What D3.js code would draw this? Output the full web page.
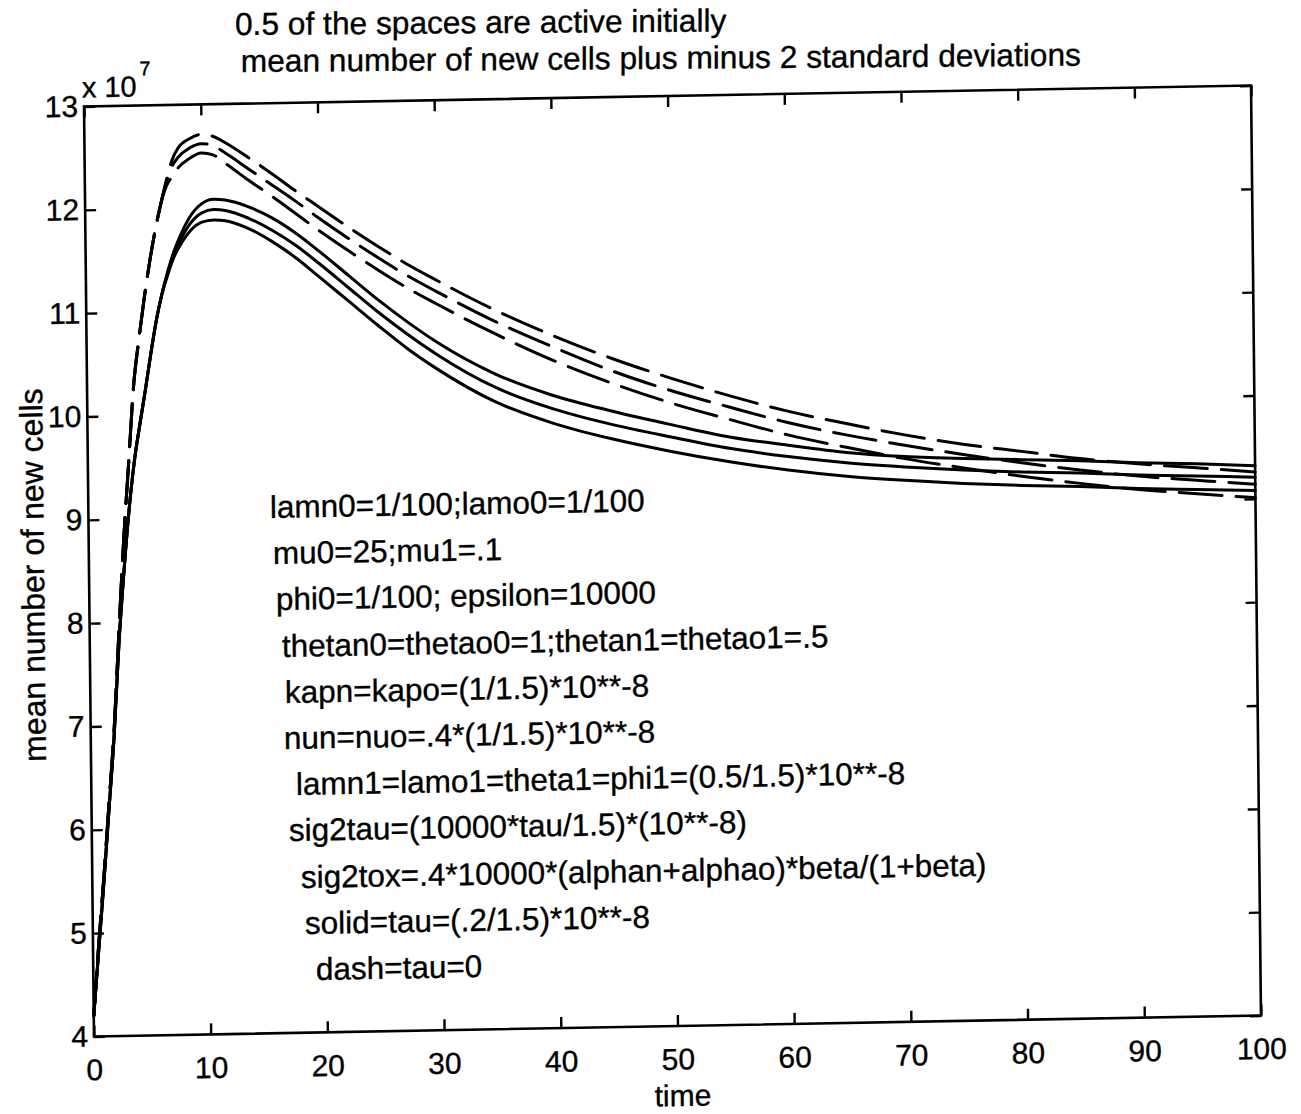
<!DOCTYPE html>
<html>
<head>
<meta charset="utf-8">
<script src="https://cdn.jsdelivr.net/npm/d3@7"></script>
<style>
  html, body { margin: 0; padding: 0; background: #fff; }
  svg { display: block; }
  text { font-family: "Liberation Sans", Arial, Helvetica, sans-serif; fill: #000; stroke: #000; stroke-width: 0.35px; }
</style>
</head>
<body>
<svg id="chart" width="1301" height="1114"></svg>
<script>
// ---------------- data ----------------
const titleLines = [
  "0.5 of the spaces are active initially",
  " mean number of new cells plus minus 2 standard deviations"
];
const xLabel = "time";
const yLabel = "mean number of new cells";
const yExponent = "7";
const xTicks = [0, 10, 20, 30, 40, 50, 60, 70, 80, 90, 100];
const yTicks = [4, 5, 6, 7, 8, 9, 10, 11, 12, 13];

const time = [0, 0.5, 1, 1.5, 2, 2.5, 3, 3.5, 4, 4.5, 5, 5.5, 6, 6.5, 7, 7.5, 8, 9, 10, 11, 12, 14, 16, 18, 20, 22.5, 25, 27.5, 30, 35, 40, 45, 50, 55, 60, 65, 70, 75, 80, 85, 90, 95, 100];

// dashed: tau = 0 (mean + 2sd, mean, mean - 2sd), units of 1e7
const dashUpper = [4.2, 4.9, 5.55, 6.25, 6.95, 7.9, 8.8, 9.55, 10.3, 10.75, 11.15, 11.5, 11.8, 12.05, 12.28, 12.47, 12.58, 12.67, 12.71, 12.69, 12.63, 12.48, 12.32, 12.15, 11.99, 11.79, 11.60, 11.42, 11.26, 10.96, 10.70, 10.47, 10.27, 10.09, 9.93, 9.80, 9.68, 9.58, 9.50, 9.42, 9.36, 9.31, 9.26];
const dashMean  = [4.2, 4.9, 5.55, 6.25, 6.95, 7.9, 8.8, 9.55, 10.3, 10.75, 11.15, 11.5, 11.8, 12.05, 12.26, 12.41, 12.49, 12.58, 12.62, 12.60, 12.53, 12.37, 12.21, 12.05, 11.88, 11.68, 11.49, 11.31, 11.15, 10.85, 10.59, 10.35, 10.15, 9.98, 9.82, 9.69, 9.58, 9.48, 9.39, 9.31, 9.24, 9.19, 9.14];
const dashLower = [4.2, 4.9, 5.55, 6.25, 6.95, 7.9, 8.8, 9.55, 10.3, 10.75, 11.15, 11.5, 11.8, 12.05, 12.22, 12.31, 12.39, 12.48, 12.53, 12.51, 12.43, 12.26, 12.10, 11.93, 11.76, 11.56, 11.37, 11.19, 11.03, 10.73, 10.46, 10.23, 10.03, 9.86, 9.70, 9.57, 9.45, 9.35, 9.26, 9.18, 9.11, 9.06, 9.01];

// solid: tau = (.2/1.5)*10**-8
const solidUpper = [4.2, 4.85, 5.5, 6.2, 6.9, 7.8, 8.5, 9.1, 9.57, 9.92, 10.25, 10.6, 10.92, 11.17, 11.38, 11.56, 11.70, 11.92, 12.04, 12.08, 12.07, 12.00, 11.89, 11.74, 11.56, 11.32, 11.08, 10.86, 10.66, 10.34, 10.12, 9.96, 9.82, 9.69, 9.60, 9.52, 9.47, 9.44, 9.42, 9.40, 9.37, 9.35, 9.32];
const solidMean  = [4.2, 4.85, 5.5, 6.2, 6.9, 7.8, 8.5, 9.1, 9.57, 9.92, 10.25, 10.6, 10.92, 11.17, 11.37, 11.54, 11.66, 11.85, 11.95, 11.98, 11.97, 11.89, 11.77, 11.62, 11.44, 11.20, 10.96, 10.74, 10.54, 10.21, 9.99, 9.83, 9.70, 9.58, 9.49, 9.42, 9.37, 9.33, 9.30, 9.28, 9.25, 9.23, 9.21];
const solidLower = [4.2, 4.85, 5.5, 6.2, 6.9, 7.8, 8.5, 9.1, 9.57, 9.92, 10.25, 10.6, 10.92, 11.17, 11.35, 11.51, 11.62, 11.78, 11.86, 11.88, 11.87, 11.79, 11.66, 11.50, 11.31, 11.07, 10.83, 10.60, 10.40, 10.07, 9.85, 9.69, 9.56, 9.45, 9.36, 9.29, 9.24, 9.20, 9.17, 9.15, 9.12, 9.10, 9.08];

const notes = [
  "lamn0=1/100;lamo0=1/100",
  "mu0=25;mu1=.1",
  "phi0=1/100; epsilon=10000",
  "thetan0=thetao0=1;thetan1=thetao1=.5",
  "kapn=kapo=(1/1.5)*10**-8",
  "nun=nuo=.4*(1/1.5)*10**-8",
  "lamn1=lamo1=theta1=phi1=(0.5/1.5)*10**-8",
  "sig2tau=(10000*tau/1.5)*(10**-8)",
  "sig2tox=.4*10000*(alphan+alphao)*beta/(1+beta)",
  "solid=tau=(.2/1.5)*10**-8",
  "dash=tau=0"
];

// ---------------- layout ----------------
const W = 1301, H = 1114;
const frame = { left: 89, right: 1256, top: 96, bottom: 1026 };
// scan distortion: slight shear/rotation about the frame centre
const warp = { cx: 672.5, cy: 561, a: 0.0107, b: -0.018 };
// screen positions (left, baseline) of the hand-placed annotation lines
const notePos = [
  [270, 518], [273, 564], [276, 610], [282, 657], [285, 703], [284, 749],
  [296, 795], [289, 841], [301, 888], [305, 934], [316, 980]
];
// screen positions (left, baseline) of the two title lines
const titlePos = [[235, 35], [232, 72]];

const svg = d3.select("#chart");
svg.append("rect").attr("width", W).attr("height", H).attr("fill", "#fff");

const g = svg.append("g")
  .attr("transform", `matrix(1, ${warp.b}, ${warp.a}, 1, ${-warp.a * warp.cy}, ${-warp.b * warp.cx})`);

// screen point -> unwarped coordinates
function inv(px, py) {
  const dx = px - warp.cx, dy = py - warp.cy, det = 1 - warp.a * warp.b;
  return [warp.cx + (dx - warp.a * dy) / det, warp.cy + (dy - warp.b * dx) / det];
}

const x = d3.scaleLinear().domain([0, 100]).range([frame.left, frame.right]);
const y = d3.scaleLinear().domain([4, 13]).range([frame.bottom, frame.top]);

const tickLen = 11;
const fs = 30;

// frame
g.append("rect")
  .attr("x", frame.left).attr("y", frame.top)
  .attr("width", frame.right - frame.left).attr("height", frame.bottom - frame.top)
  .attr("fill", "none").attr("stroke", "#000").attr("stroke-width", 2.6);

// axes with inward ticks
const xBottom = d3.axisBottom(x).tickValues(xTicks).tickSizeInner(-tickLen).tickSizeOuter(0).tickPadding(22);
const xTop = d3.axisTop(x).tickValues(xTicks).tickSizeInner(-tickLen).tickSizeOuter(0).tickFormat("");
const yLeft = d3.axisLeft(y).tickValues(yTicks).tickSizeInner(-tickLen).tickSizeOuter(0).tickPadding(6);
const yRight = d3.axisRight(y).tickValues(yTicks).tickSizeInner(-tickLen).tickSizeOuter(0).tickFormat("");

function styleAxis(sel) {
  sel.select(".domain").remove();
  sel.selectAll(".tick line").attr("stroke", "#000").attr("stroke-width", 2.4);
  sel.selectAll(".tick text")
    .attr("fill", "#000")
    .style("font-family", '"Liberation Sans", Arial, Helvetica, sans-serif')
    .style("font-size", fs + "px");
}
g.append("g").attr("transform", `translate(0,${frame.bottom})`).call(xBottom).call(styleAxis)
  .selectAll(".tick text").attr("dy", "0.72em");
g.append("g").attr("transform", `translate(0,${frame.top})`).call(xTop).call(styleAxis);
g.append("g").attr("transform", `translate(${frame.left},0)`).call(yLeft).call(styleAxis);
g.append("g").attr("transform", `translate(${frame.right},0)`).call(yRight).call(styleAxis);

// exponent label "x 10^7"
const ex = g.append("text")
  .attr("x", frame.left - 2).attr("y", frame.top - 9)
  .style("font-size", "29px");
ex.append("tspan").text("x 10");
ex.append("tspan").attr("dy", -21).attr("dx", 3).style("font-size", "20px").text(yExponent);

// titles (text lines in the scan are a little less tilted than the axes)
titleLines.forEach((t, i) => {
  const p = inv(titlePos[i][0], titlePos[i][1]);
  g.append("text")
    .attr("transform", `translate(${p[0]},${p[1]}) rotate(0.6)`)
    .style("font-size", "31.7px")
    .style("white-space", "pre").attr("xml:space", "preserve")
    .text(t);
});

// axis labels
const xl = inv(683, 1106);
g.append("text").attr("x", xl[0]).attr("y", xl[1]).attr("text-anchor", "middle")
  .style("font-size", "30px").text(xLabel);
const yl = inv(44, 575);
g.append("text").attr("transform", `translate(${yl[0]},${yl[1]}) rotate(-90)`)
  .attr("text-anchor", "middle").style("font-size", "32px").text(yLabel);

// curves
const line = d3.line()
  .x((d, i) => x(time[i]))
  .y(d => y(d))
  .curve(d3.curveMonotoneX);

const series = [
  { v: dashUpper, dash: true }, { v: dashMean, dash: true }, { v: dashLower, dash: true },
  { v: solidUpper, dash: false }, { v: solidMean, dash: false }, { v: solidLower, dash: false }
];
g.selectAll("path.curve").data(series).join("path")
  .attr("class", "curve")
  .attr("d", s => line(s.v))
  .attr("fill", "none")
  .attr("stroke", "#000")
  .attr("stroke-width", 3)
  .attr("stroke-linecap", "round")
  .attr("stroke-dasharray", s => s.dash ? "43,14" : null);

// annotation text
g.selectAll("text.note").data(notes).join("text")
  .attr("class", "note")
  .attr("x", (d, i) => inv(notePos[i][0], notePos[i][1])[0])
  .attr("y", (d, i) => inv(notePos[i][0], notePos[i][1])[1])
  .style("font-size", "31.5px")
  .text(d => d);
</script>
</body>
</html>
